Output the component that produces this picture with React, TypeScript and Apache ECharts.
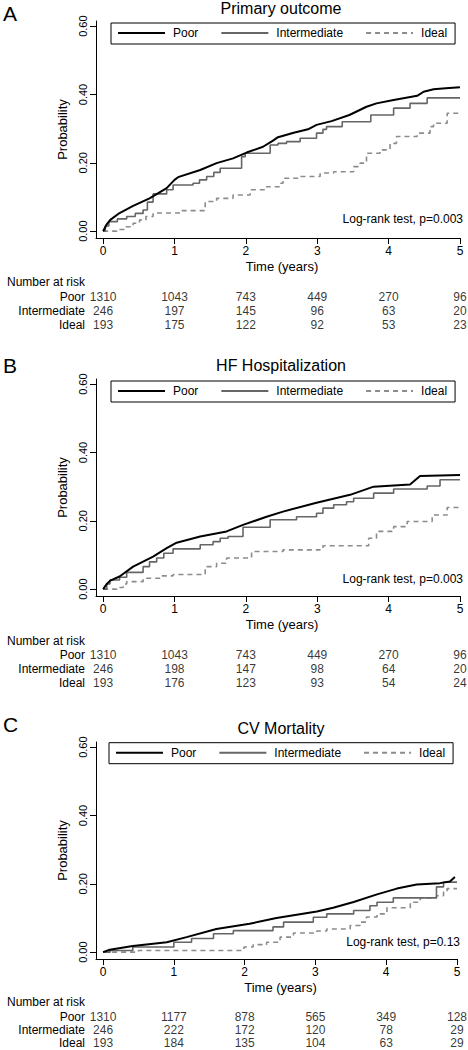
import React, { useEffect, useRef } from 'react';
import * as echarts from 'echarts';

// ---------- data ----------
const groups = ['Poor', 'Intermediate', 'Ideal'];
const timeTicks = [0, 1, 2, 3, 4, 5];
const probTicks = [0, 0.2, 0.4, 0.6];
const panelLetters = ['A', 'B', 'C'];
const panelTitles = ['Primary outcome', 'HF Hospitalization', 'CV Mortality'];
const logRankTexts = ['Log-rank test, p=0.003', 'Log-rank test, p=0.003', 'Log-rank test, p=0.13'];
const xAxisTitle = 'Time (years)';
const yAxisTitle = 'Probability';
const riskTitle = 'Number at risk';

// Panel A – Primary outcome
const poorA = [[0, 0], [0.05, 0.02], [0.1, 0.033], [0.23, 0.053], [0.42, 0.074], [0.65, 0.096], [0.89, 0.126], [1.0, 0.15], [1.05, 0.158], [1.36, 0.179], [1.59, 0.199], [1.82, 0.213], [2.01, 0.23], [2.24, 0.247], [2.38, 0.265], [2.45, 0.275], [2.67, 0.288], [2.87, 0.298], [2.99, 0.311], [3.2, 0.322], [3.45, 0.34], [3.69, 0.364], [3.83, 0.374], [4.07, 0.384], [4.4, 0.396], [4.49, 0.408], [4.63, 0.415], [4.8, 0.418], [5.0, 0.421]];
const interA = [[0, 0], [0.03, 0.015], [0.08, 0.028], [0.2, 0.036], [0.33, 0.043], [0.45, 0.052], [0.56, 0.062], [0.62, 0.085], [0.7, 0.109], [0.89, 0.121], [0.98, 0.135], [1.26, 0.14], [1.35, 0.15], [1.45, 0.16], [1.55, 0.172], [1.64, 0.184], [1.94, 0.218], [1.99, 0.228], [2.34, 0.252], [2.45, 0.257], [2.57, 0.262], [2.76, 0.272], [2.99, 0.287], [3.08, 0.298], [3.13, 0.306], [3.35, 0.32], [3.75, 0.34], [4.07, 0.36], [4.3, 0.374], [4.54, 0.39], [5.0, 0.39]];
const idealA = [[0, 0], [0.19, 0.005], [0.3, 0.013], [0.42, 0.023], [0.51, 0.033], [0.6, 0.043], [0.7, 0.053], [1.08, 0.06], [1.43, 0.087], [1.59, 0.096], [1.82, 0.106], [2.06, 0.121], [2.29, 0.13], [2.48, 0.14], [2.52, 0.155], [2.76, 0.16], [3.04, 0.17], [3.23, 0.174], [3.51, 0.189], [3.6, 0.199], [3.69, 0.228], [3.88, 0.238], [4.02, 0.257], [4.11, 0.277], [4.4, 0.287], [4.58, 0.306], [4.63, 0.316], [4.82, 0.345], [5.0, 0.35]];
const riskPoorA = [1310, 1043, 743, 449, 270, 96];
const riskInterA = [246, 197, 145, 96, 63, 20];
const riskIdealA = [193, 175, 122, 92, 53, 23];

// Panel B – HF Hospitalization
const poorB = [[0, 0], [0.05, 0.015], [0.1, 0.025], [0.23, 0.037], [0.42, 0.066], [0.7, 0.095], [0.89, 0.12], [1.03, 0.136], [1.36, 0.154], [1.73, 0.169], [1.96, 0.188], [2.29, 0.212], [2.52, 0.227], [2.99, 0.253], [3.46, 0.276], [3.79, 0.3], [4.3, 0.306], [4.44, 0.331], [5.0, 0.334]];
const interB = [[0, 0], [0.05, 0.015], [0.094, 0.027], [0.23, 0.035], [0.33, 0.049], [0.56, 0.066], [0.65, 0.08], [0.75, 0.091], [0.85, 0.105], [0.98, 0.118], [1.36, 0.13], [1.54, 0.139], [1.64, 0.149], [1.75, 0.154], [1.96, 0.181], [2.34, 0.203], [2.71, 0.212], [2.99, 0.222], [3.08, 0.237], [3.23, 0.247], [3.41, 0.256], [3.51, 0.266], [3.79, 0.281], [4.07, 0.293], [4.54, 0.302], [4.72, 0.32], [5.0, 0.32]];
const idealB = [[0, 0], [0.19, 0.005], [0.28, 0.015], [0.33, 0.022], [0.56, 0.032], [0.8, 0.039], [0.98, 0.043], [1.43, 0.066], [1.59, 0.076], [1.73, 0.091], [2.08, 0.11], [2.52, 0.115], [3.04, 0.12], [3.08, 0.127], [3.72, 0.149], [3.83, 0.169], [4.07, 0.183], [4.26, 0.198], [4.61, 0.217], [4.82, 0.239], [5.0, 0.239]];
const riskPoorB = [1310, 1043, 743, 449, 270, 96];
const riskInterB = [246, 198, 147, 98, 64, 20];
const riskIdealB = [193, 176, 123, 93, 54, 24];

// Panel C – CV Mortality
const poorC = [[0, 0], [0.094, 0.007], [0.42, 0.018], [0.9, 0.029], [1.18, 0.044], [1.6, 0.068], [2.07, 0.083], [2.45, 0.1], [3.02, 0.119], [3.25, 0.13], [3.54, 0.147], [3.87, 0.169], [4.15, 0.186], [4.43, 0.198], [4.76, 0.202], [4.9, 0.207], [4.97, 0.22]];
const interC = [[0, 0], [0.1, 0.005], [0.42, 0.015], [1.0, 0.029], [1.25, 0.04], [1.56, 0.054], [1.84, 0.063], [2.4, 0.074], [2.55, 0.088], [2.97, 0.102], [3.16, 0.112], [3.54, 0.122], [3.77, 0.136], [3.87, 0.146], [4.1, 0.159], [4.71, 0.191], [4.81, 0.205], [5.0, 0.205]];
const idealC = [[0, 0], [0.5, 0.005], [1.99, 0.015], [2.12, 0.022], [2.31, 0.029], [2.5, 0.044], [2.69, 0.056], [3.02, 0.062], [3.16, 0.068], [3.49, 0.078], [3.63, 0.088], [3.72, 0.103], [3.87, 0.112], [4.01, 0.13], [4.34, 0.146], [4.48, 0.159], [4.71, 0.165], [4.81, 0.176], [4.86, 0.186], [5.0, 0.186]];
const riskPoorC = [1310, 1177, 878, 565, 349, 128];
const riskInterC = [246, 222, 172, 120, 78, 29];
const riskIdealC = [193, 184, 135, 104, 63, 29];

const curvesByPanel = [[poorA, interA, idealA], [poorB, interB, idealB], [poorC, interC, idealC]];
const riskByPanel = [[riskPoorA, riskInterA, riskIdealA], [riskPoorB, riskInterB, riskIdealB], [riskPoorC, riskInterC, riskIdealC]];

// ---------- layout / style ----------
const FONT = '"Liberation Sans", Arial, Helvetica, sans-serif';
const layouts = [
  { gridTop: 21, gridW: 364, letterY: 13, titleY: 8, legendLeft: 111, legendTop: 23, logX: 463, logY: 219, nrY: 282, tableTop: 289.5, tableH: 43 },
  { gridTop: 379, gridW: 364, letterY: 365.5, titleY: 365, legendLeft: 111, legendTop: 381, logX: 463, logY: 579, nrY: 640.7, tableTop: 647.8, tableH: 42.5 },
  { gridTop: 742, gridW: 361, letterY: 724, titleY: 728, legendLeft: 109, legendTop: 742.7, logX: 460, logY: 941.7, nrY: 1002.3, tableTop: 1010.5, tableH: 41 },
];
const seriesStyles = [
  { color: '#000000', width: 2, type: 'solid', step: false, z: 4 },
  { color: '#666666', width: 1.6, type: 'solid', step: 'end', z: 3 },
  { color: '#8c8c8c', width: 1.6, type: [5, 4], step: 'end', z: 2 },
];

function buildOption() {
  const grid: any[] = [];
  const xAxis: any[] = [];
  const yAxis: any[] = [];
  const series: any[] = [];
  const legend: any[] = [];
  const graphic: any[] = [];

  layouts.forEach((L, p) => {
    const mainIdx = 2 * p;
    const tabIdx = 2 * p + 1;
    grid.push({ left: 96, top: L.gridTop, width: L.gridW, height: 217, containLabel: false });
    grid.push({ left: 96, top: L.tableTop, width: L.gridW, height: L.tableH, containLabel: false });

    xAxis.push({
      gridIndex: mainIdx, type: 'value', min: -0.1, max: 5,
      axisLine: { show: true, onZero: false, lineStyle: { color: '#000', width: 1 } },
      axisTick: { show: true, length: 6, customValues: timeTicks, lineStyle: { color: '#000', width: 1 } },
      axisLabel: { customValues: timeTicks, color: '#000', fontSize: 12, fontFamily: FONT, margin: 7, formatter: (v: number) => String(v) },
      splitLine: { show: false },
      name: xAxisTitle, nameLocation: 'middle', nameGap: 22,
      nameTextStyle: { color: '#000', fontSize: 13, fontFamily: FONT, padding: [0, 0, 0, 8] },
    });
    yAxis.push({
      gridIndex: mainIdx, type: 'value', min: -0.02, max: 0.615,
      axisLine: { show: true, onZero: false, lineStyle: { color: '#000', width: 1 } },
      axisTick: { show: true, length: 6, customValues: probTicks, lineStyle: { color: '#000', width: 1 } },
      axisLabel: { customValues: probTicks, rotate: 90, color: '#000', fontSize: 11, fontFamily: FONT, margin: 8, formatter: (v: number) => v.toFixed(2) },
      splitLine: { show: false },
      name: yAxisTitle, nameLocation: 'middle', nameGap: 27,
      nameTextStyle: { color: '#000', fontSize: 13, fontFamily: FONT },
    });

    xAxis.push({ gridIndex: tabIdx, type: 'value', min: -0.1, max: 5, show: false });
    yAxis.push({
      gridIndex: tabIdx, type: 'category', data: groups, inverse: true,
      axisLine: { show: false }, axisTick: { show: false }, splitLine: { show: false },
      axisLabel: { interval: 0, color: '#000', fontSize: 12, fontFamily: FONT, margin: 11 },
    });

    groups.forEach((g, gi) => {
      const s = seriesStyles[gi];
      series.push({
        name: g, type: 'line', xAxisIndex: mainIdx, yAxisIndex: mainIdx,
        data: curvesByPanel[p][gi], step: s.step, symbol: 'none', showSymbol: false,
        z: s.z, color: s.color,
        lineStyle: { color: s.color, width: s.width, type: s.type },
      });
    });

    const tableData: any[] = [];
    groups.forEach((g, gi) => {
      timeTicks.forEach((t, ti) => {
        tableData.push([t, g, riskByPanel[p][gi][ti]]);
      });
    });
    series.push({
      type: 'scatter', xAxisIndex: tabIdx, yAxisIndex: tabIdx,
      data: tableData, symbolSize: 1, itemStyle: { color: 'rgba(0,0,0,0)' },
      encode: { x: 0, y: 1 }, silent: true,
      label: { show: true, position: 'inside', color: '#000', fontSize: 12, fontFamily: FONT, formatter: (d: any) => String(d.value[2]) },
    });

    legend.push({
      data: groups, left: L.legendLeft, top: L.legendTop, orient: 'horizontal',
      itemWidth: 47, itemHeight: 14, itemGap: 22,
      padding: [4, 8, 5, 6], borderColor: '#000', borderWidth: 1, backgroundColor: '#fff',
      itemStyle: { opacity: 0, borderWidth: 0 },
      textStyle: { color: '#000', fontSize: 12, fontFamily: FONT, padding: [0, 0, 0, 3] },
      selectedMode: false,
    });

    graphic.push({
      type: 'text', x: 3, y: L.letterY,
      style: { text: panelLetters[p], fontSize: 21, fontFamily: FONT, fill: '#000', align: 'left', verticalAlign: 'middle', textAlign: 'left', textVerticalAlign: 'middle' },
    });
    graphic.push({
      type: 'text', x: 281, y: L.titleY,
      style: { text: panelTitles[p], fontSize: 16, fontFamily: FONT, fill: '#000', align: 'center', verticalAlign: 'middle', textAlign: 'center', textVerticalAlign: 'middle' },
    });
    graphic.push({
      type: 'text', x: L.logX, y: L.logY,
      style: { text: logRankTexts[p], fontSize: 12, fontFamily: FONT, fill: '#000', align: 'right', verticalAlign: 'middle', textAlign: 'right', textVerticalAlign: 'middle' },
    });
    graphic.push({
      type: 'text', x: 7, y: L.nrY,
      style: { text: riskTitle, fontSize: 12, fontFamily: FONT, fill: '#000', align: 'left', verticalAlign: 'middle', textAlign: 'left', textVerticalAlign: 'middle' },
    });
  });

  return {
    animation: false,
    backgroundColor: '#ffffff',
    textStyle: { fontFamily: FONT },
    grid, xAxis, yAxis, series, legend, graphic,
  };
}

export default function App() {
  const ref = useRef<HTMLDivElement>(null);
  useEffect(() => {
    if (!ref.current) return;
    const chart = echarts.init(ref.current, null, { renderer: 'svg' });
    chart.setOption(buildOption() as any);
    return () => chart.dispose();
  }, []);
  return (
    <div
      ref={ref}
      style={{ position: 'absolute', left: 0, top: 0, width: 468, height: 1050, background: '#fff' }}
    />
  );
}
